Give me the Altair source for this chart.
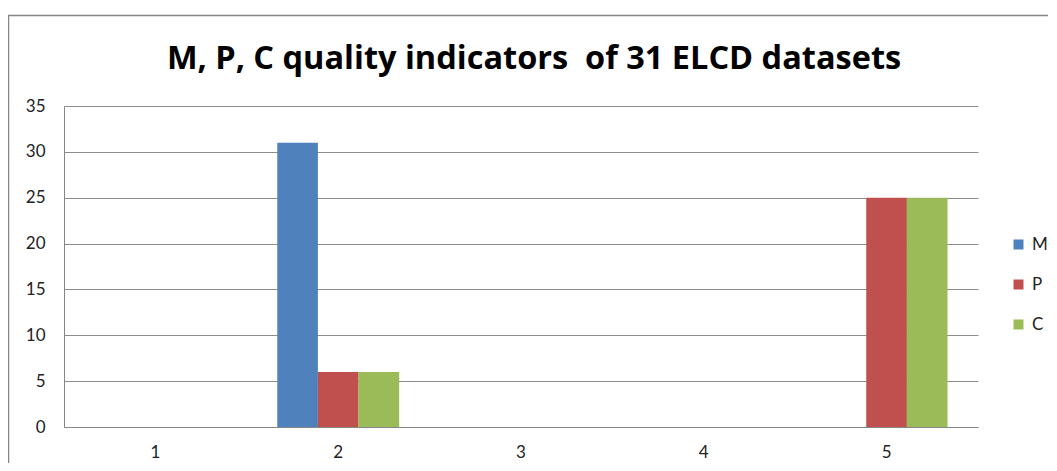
import altair as alt
import pandas as pd

categories = ["1", "2", "3", "4", "5"]
series_names = ["M", "P", "C"]
m_values = [0, 31, 0, 0, 0]
p_values = [0, 6, 0, 0, 25]
c_values = [0, 6, 0, 0, 25]
colors = ["#4F81BD", "#C0504D", "#9BBB59"]
y_ticks = [0, 5, 10, 15, 20, 25, 30, 35]
title_text = "M, P, C quality indicators\u00a0 of 31 ELCD datasets"

rows = []
for name, vals in zip(series_names, [m_values, p_values, c_values]):
    for cat, v in zip(categories, vals):
        rows.append({"cat": cat, "series": name, "value": v})
df = pd.DataFrame(rows)

FONT = "Lato"

bars = alt.Chart(df).mark_bar().encode(
    x=alt.X("cat:N", sort=categories, title=None,
            scale=alt.Scale(paddingInner=0.333, paddingOuter=0.1667),
            axis=alt.Axis(labelAngle=0, ticks=False, labelPadding=17, domainColor="#868686",
                          labelFontSize=17, labelColor="#222222", labelFont=FONT)),
    xOffset=alt.XOffset("series:N", sort=series_names, scale=alt.Scale(paddingInner=0, paddingOuter=0)),
    y=alt.Y("value:Q", title=None,
            scale=alt.Scale(domain=[0, 35], nice=False),
            axis=alt.Axis(values=y_ticks, ticks=False, labelPadding=19, domainColor="#868686",
                          gridColor="#8c8c8c", labelFontSize=17, labelColor="#222222", labelFont=FONT)),
    color=alt.Color("series:N", sort=series_names,
                    scale=alt.Scale(domain=series_names, range=colors),
                    legend=alt.Legend(title=None, orient="none", legendX=946, legendY=130,
                                      symbolType="square", symbolSize=100, symbolStrokeWidth=0,
                                      rowPadding=22, labelFontSize=17, labelFont=FONT,
                                      labelColor="#222222", labelOffset=5)),
)

frame = alt.Chart(pd.DataFrame({"a": [0]})).mark_rect(
    fillOpacity=0, stroke="#868686", strokeWidth=1.5
).encode(x=alt.value(-55.5), x2=alt.value(1100), y=alt.value(-90.5), y2=alt.value(500))

title = alt.Chart(pd.DataFrame({"a": [0]})).mark_text(
    font="Open Sans", fontSize=32.5, fontWeight="bold", color="#000000", align="center", baseline="alphabetic"
).encode(x=alt.value(470), y=alt.value(-37), text=alt.value(title_text))

chart = alt.layer(frame, title, bars).properties(
    width=914, height=321,
    autosize=alt.AutoSizeParams(type="none"),
    padding={"left": 56, "top": 98, "right": 70, "bottom": 36},
).configure_view(stroke=None).configure_axis(grid=True).configure_axisX(grid=False)

chart.save("out.html", embed_options={"renderer": "svg", "actions": False})
